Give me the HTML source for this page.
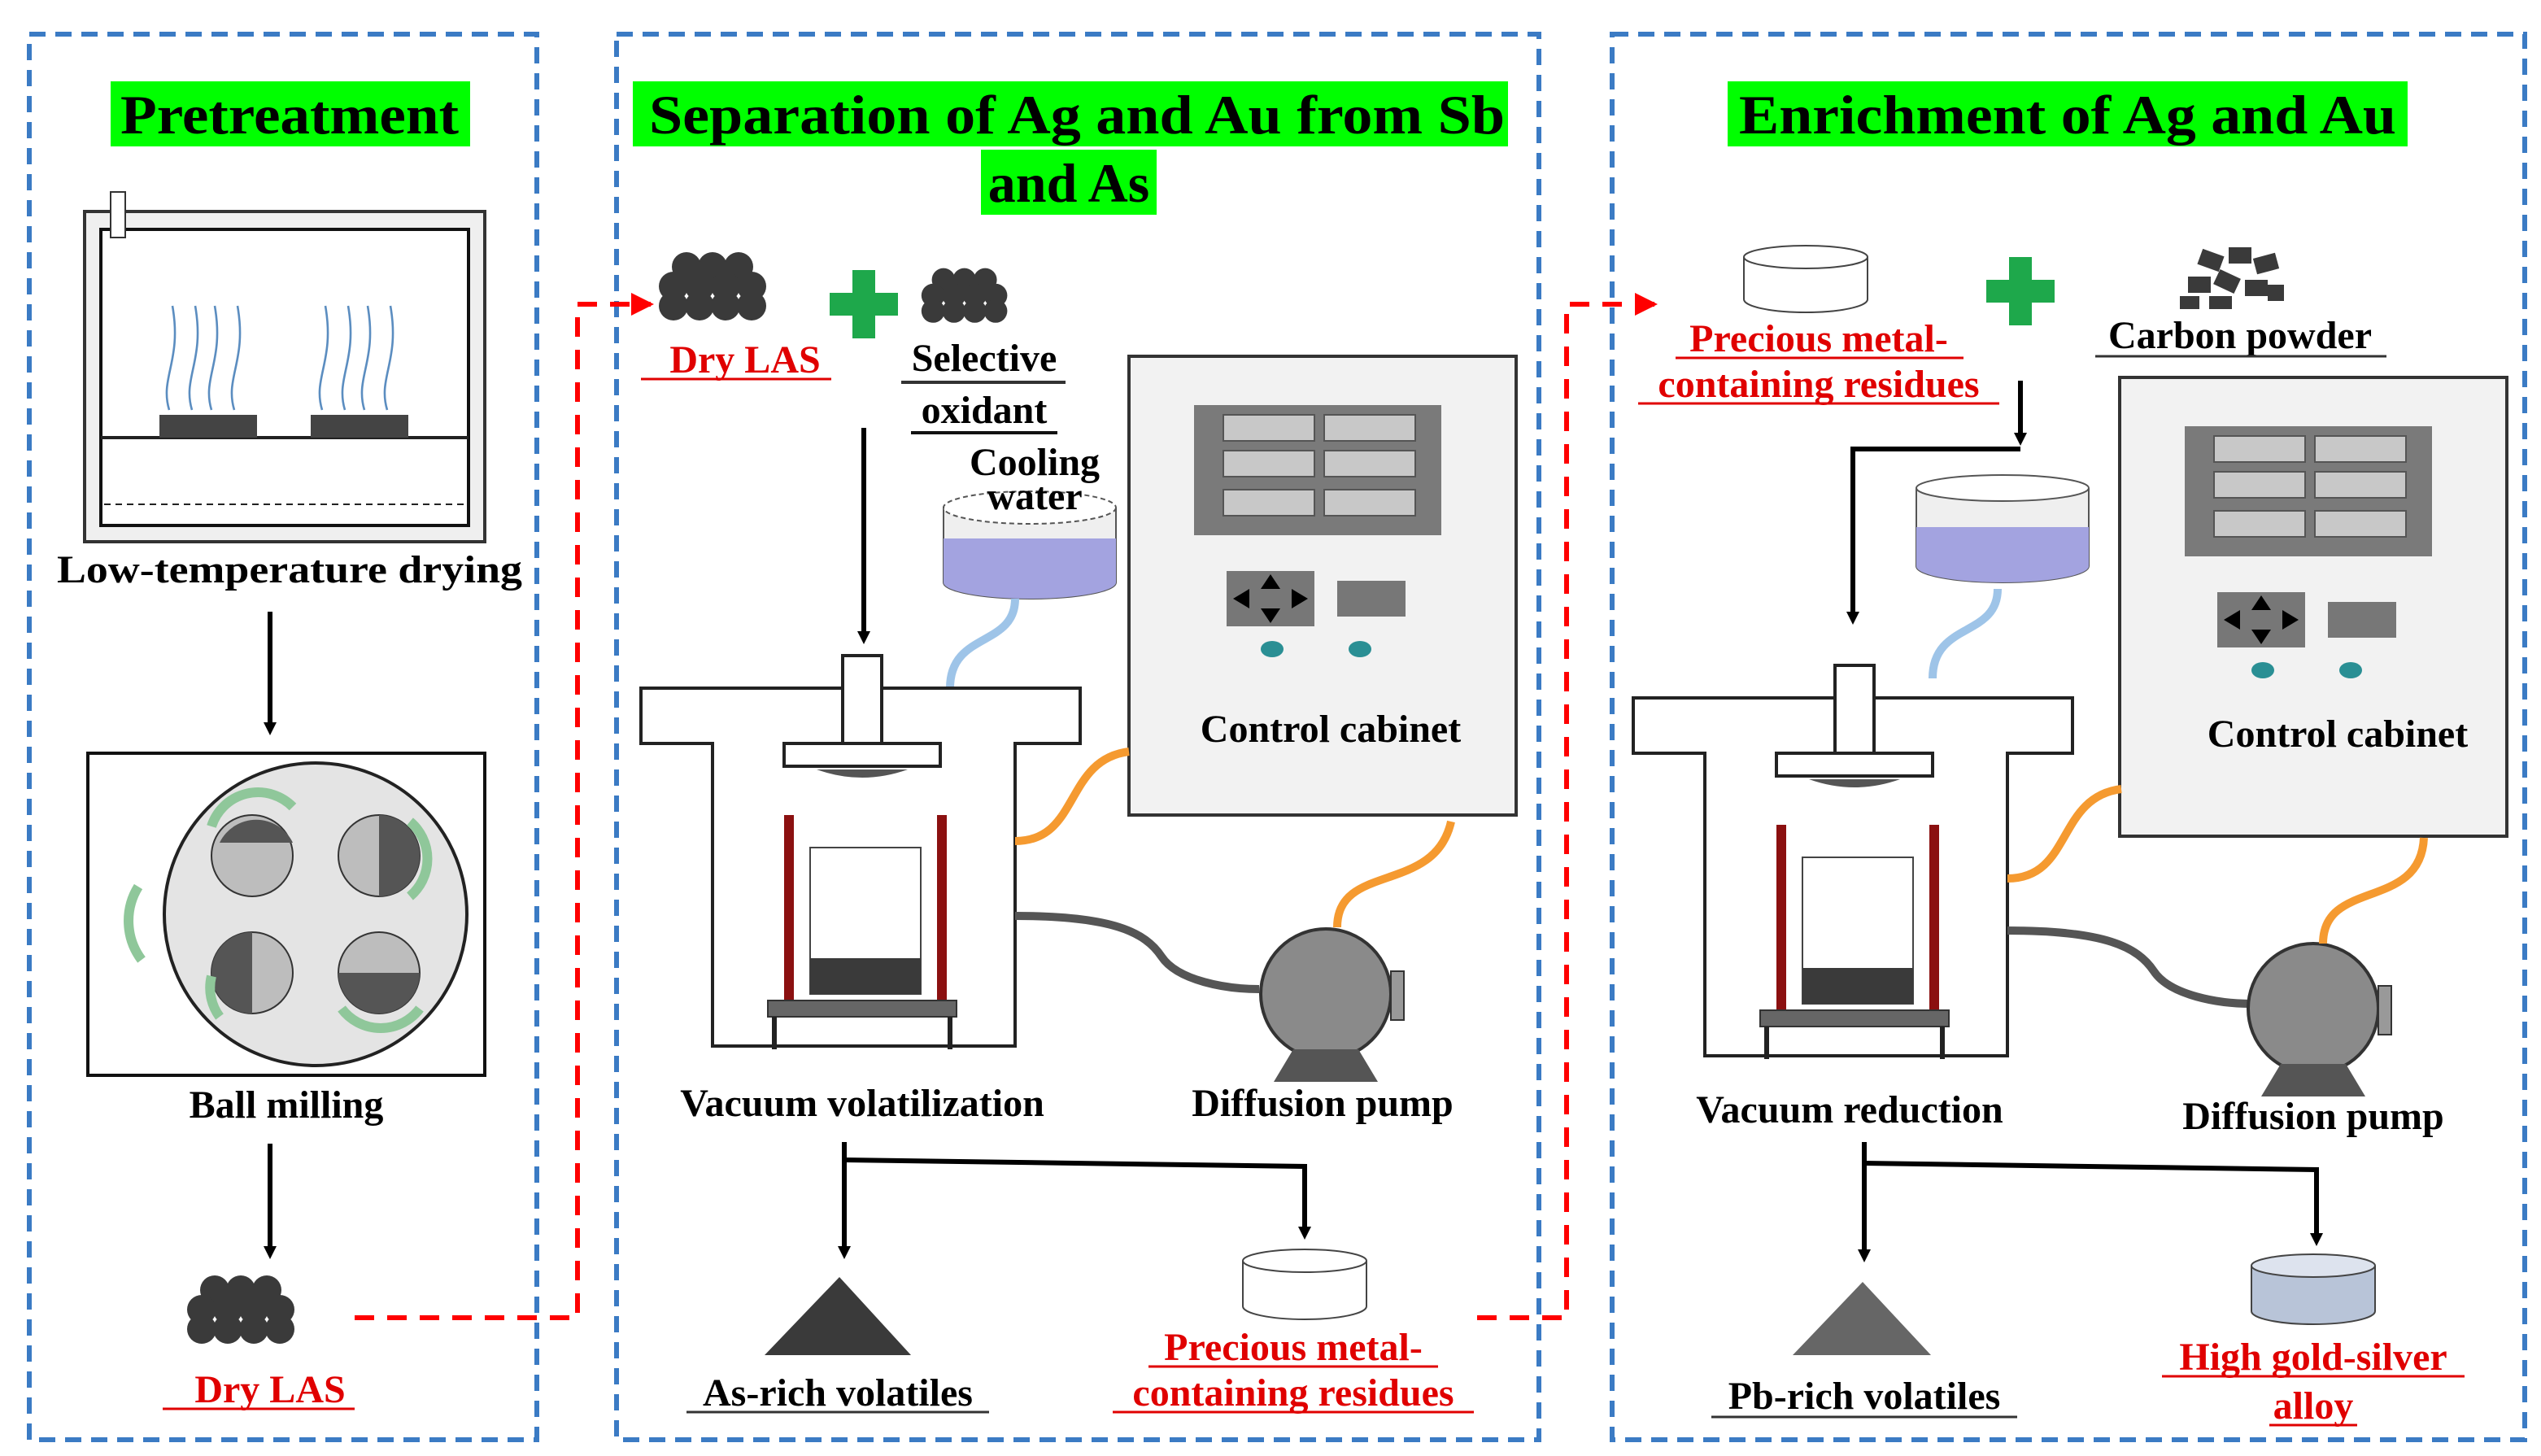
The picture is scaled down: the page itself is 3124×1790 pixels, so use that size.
<!DOCTYPE html>
<html><head><meta charset="utf-8"><style>
html,body{margin:0;padding:0;background:#fff;}
svg{display:block;}
text{font-family:"Liberation Serif",serif;font-weight:bold;}
</style></head><body>
<svg width="3124" height="1790" viewBox="0 0 1562 895" xmlns="http://www.w3.org/2000/svg">
<defs>
<marker id="ab" markerWidth="8" markerHeight="8" refX="4" refY="4" orient="auto" markerUnits="userSpaceOnUse" viewBox="0 0 8 8"><path d="M0,0 L8,4 L0,8 z" fill="#000"/></marker>
<marker id="ar" markerWidth="14" markerHeight="14" refX="12" refY="7" orient="auto" markerUnits="userSpaceOnUse"><path d="M0,0 L14,7 L0,14 z" fill="#f00"/></marker>
<g id="blob">
<circle cx="0" cy="0" r="9" fill="#3a3a3a"/><circle cx="16" cy="0" r="9" fill="#3a3a3a"/><circle cx="32" cy="0" r="9" fill="#3a3a3a"/>
<circle cx="-8" cy="12" r="9" fill="#3a3a3a"/><circle cx="8" cy="12" r="9" fill="#3a3a3a"/><circle cx="24" cy="12" r="9" fill="#3a3a3a"/><circle cx="40" cy="12" r="9" fill="#3a3a3a"/>
<circle cx="-8" cy="24" r="9" fill="#3a3a3a"/><circle cx="8" cy="24" r="9" fill="#3a3a3a"/><circle cx="24" cy="24" r="9" fill="#3a3a3a"/><circle cx="40" cy="24" r="9" fill="#3a3a3a"/>
</g>
<g id="cab">
<rect x="0" y="0" width="238" height="282" fill="#f2f2f2" stroke="#333" stroke-width="2"/>
<rect x="40" y="30" width="152" height="80" fill="#7a7a7a"/>
<g fill="#c8c8c8" stroke="#555"><rect x="58" y="36" width="56" height="16"/><rect x="120" y="36" width="56" height="16"/><rect x="58" y="58" width="56" height="16"/><rect x="120" y="58" width="56" height="16"/><rect x="58" y="82" width="56" height="16"/><rect x="120" y="82" width="56" height="16"/></g>
<rect x="60" y="132" width="54" height="34" fill="#777"/>
<path d="M64,149 l10,-6 v12z M110,149 l-10,-6 v12z M87,134 l-6,9 h12z M87,164 l-6,-9 h12z" fill="#000"/>
<rect x="128" y="138" width="42" height="22" fill="#777"/>
<ellipse cx="88" cy="180" rx="7" ry="5" fill="#2a8f94"/><ellipse cx="142" cy="180" rx="7" ry="5" fill="#2a8f94"/>
</g>
<g id="fur">
<path d="M0,0 H270 V34 H230 V220 H44 V34 H0 Z" fill="#fff" stroke="#222" stroke-width="2"/>
<rect x="124" y="-20" width="24" height="56" fill="#fff" stroke="#222" stroke-width="2"/>
<rect x="88" y="34" width="96" height="14" fill="#fff" stroke="#222" stroke-width="2"/>
<path d="M108,50 q28,10 56,0" fill="#555"/>
<rect x="104" y="98" width="68" height="90" fill="#fff" stroke="#444"/>
<rect x="104" y="166" width="68" height="22" fill="#3a3a3a"/>
<rect x="88" y="78" width="6" height="114" fill="#8b1010"/><rect x="182" y="78" width="6" height="114" fill="#8b1010"/>
<rect x="78" y="192" width="116" height="10" fill="#666" stroke="#333"/>
<line x1="82" y1="202" x2="82" y2="222" stroke="#222" stroke-width="3"/><line x1="190" y1="202" x2="190" y2="222" stroke="#222" stroke-width="3"/>
</g>
<g id="pump">
<circle cx="40" cy="40" r="40" fill="#8a8a8a" stroke="#333" stroke-width="2"/>
<rect x="80" y="26" width="8" height="30" fill="#999" stroke="#333"/>
<path d="M20,74 L8,94 H72 L60,74 Z" fill="#555"/>
</g>
</defs>

<g fill="none" stroke="#3b7bc4" stroke-width="3" stroke-dasharray="10,6">
<rect x="18" y="21" width="312" height="864"/>
<rect x="379" y="21" width="567" height="864"/>
<rect x="991" y="21" width="561" height="864"/>
</g>

<rect x="68" y="50" width="221" height="40" fill="#00ff00"/>
<text x="178" y="82" font-size="34" text-anchor="middle" textLength="208" lengthAdjust="spacingAndGlyphs">Pretreatment</text>
<rect x="389" y="50" width="538" height="40" fill="#00ff00"/>
<text x="662" y="82" font-size="34" text-anchor="middle" textLength="526" lengthAdjust="spacingAndGlyphs">Separation of Ag and Au from Sb</text>
<rect x="603" y="92" width="108" height="40" fill="#00ff00"/>
<text x="657" y="124" font-size="34" text-anchor="middle">and As</text>
<rect x="1062" y="50" width="418" height="40" fill="#00ff00"/>
<text x="1271" y="82" font-size="34" text-anchor="middle" textLength="404" lengthAdjust="spacingAndGlyphs">Enrichment of Ag and Au</text>

<!-- dryer -->
<rect x="52" y="130" width="246" height="203" fill="#efefef" stroke="#333" stroke-width="2"/>
<rect x="62" y="141" width="226" height="182" fill="#fff" stroke="#111" stroke-width="2"/>
<rect x="68" y="118" width="9" height="28" fill="#fff" stroke="#333"/>
<line x1="62" y1="269" x2="288" y2="269" stroke="#222" stroke-width="2"/>
<line x1="64" y1="310" x2="286" y2="310" stroke="#222" stroke-dasharray="4,3"/>
<rect x="98" y="255" width="60" height="14" fill="#444"/><rect x="191" y="255" width="60" height="14" fill="#444"/>
<g fill="none" stroke="#5b8dc0" stroke-width="1.3">
<path d="M104,252 c-6,-20 8,-30 2,-64"/><path d="M118,252 c-6,-20 8,-30 2,-64"/><path d="M130,252 c-6,-20 8,-30 2,-64"/><path d="M144,252 c-6,-20 8,-30 2,-64"/>
<path d="M198,252 c-6,-20 8,-30 2,-64"/><path d="M212,252 c-6,-20 8,-30 2,-64"/><path d="M224,252 c-6,-20 8,-30 2,-64"/><path d="M238,252 c-6,-20 8,-30 2,-64"/>
</g>
<text x="178" y="358" font-size="24" text-anchor="middle" textLength="286" lengthAdjust="spacingAndGlyphs">Low-temperature drying</text>
<line x1="166" y1="376" x2="166" y2="448" stroke="#000" stroke-width="3" marker-end="url(#ab)"/>

<rect x="54" y="463" width="244" height="198" fill="#fff" stroke="#111" stroke-width="2"/>
<circle cx="194" cy="562" r="93" fill="#e4e4e4" stroke="#222" stroke-width="2"/>
<g stroke="#333"><circle cx="155" cy="526" r="25" fill="#bdbdbd"/><circle cx="233" cy="526" r="25" fill="#bdbdbd"/><circle cx="155" cy="598" r="25" fill="#bdbdbd"/><circle cx="233" cy="598" r="25" fill="#bdbdbd"/></g>
<g fill="#555"><path d="M135,518 a25,25 0 0 1 45,0 z"/><path d="M233,501 a25,25 0 0 1 0,50 z"/><path d="M155,573 a25,25 0 0 0 0,50 z"/><path d="M208,598 a25,25 0 0 0 50,0 z"/></g>
<g fill="none" stroke="#8fc79a" stroke-width="6"><path d="M130,508 a30,30 0 0 1 50,-12"/><path d="M252,505 a30,30 0 0 1 0,46"/><path d="M130,600 a30,30 0 0 0 5,25" /><path d="M210,620 a30,30 0 0 0 48,0"/><path d="M85,545 a40,40 0 0 0 2,45"/></g>
<text x="176" y="687" font-size="24" text-anchor="middle">Ball milling</text>
<line x1="166" y1="703" x2="166" y2="770" stroke="#000" stroke-width="3" marker-end="url(#ab)"/>
<use href="#blob" x="132" y="793"/>
<text x="166" y="862" font-size="24" text-anchor="middle" fill="#e00000">Dry LAS</text>
<line x1="100" y1="866" x2="218" y2="866" stroke="#e00000" stroke-width="1.5"/>

<path d="M218,810 H355 V187 H400" fill="none" stroke="#f00" stroke-width="3" stroke-dasharray="12,8" marker-end="url(#ar)"/>
<path d="M908,810 H963 V187 H1017" fill="none" stroke="#f00" stroke-width="3" stroke-dasharray="12,8" marker-end="url(#ar)"/>

<use href="#blob" x="422" y="164"/>
<text x="458" y="229" font-size="24" text-anchor="middle" fill="#e00000">Dry LAS</text>
<line x1="394" y1="233" x2="511" y2="233" stroke="#e00000" stroke-width="1.5"/>
<path d="M524,166 h14 v14 h14 v14 h-14 v14 h-14 v-14 h-14 v-14 h14z" fill="#1ea84b"/>
<g transform="translate(580,172) scale(0.8)"><use href="#blob"/></g>
<text x="605" y="228" font-size="24" text-anchor="middle">Selective</text>
<line x1="554" y1="235" x2="655" y2="235" stroke="#333" stroke-width="2"/>
<text x="605" y="260" font-size="24" text-anchor="middle">oxidant</text>
<line x1="560" y1="266" x2="650" y2="266" stroke="#111" stroke-width="2"/>
<text x="636" y="292" font-size="24" text-anchor="middle">Cooling</text>
<path d="M580,312 V358 a53,10 0 0 0 106,0 V312" fill="#efefef" stroke="#555"/>
<path d="M580,331 V358 a53,10 0 0 0 106,0 V331 Z" fill="#a3a3e0"/>
<ellipse cx="633" cy="312" rx="53" ry="10" fill="#fff" stroke="#555" stroke-dasharray="3,2"/>
<text x="636" y="313" font-size="24" text-anchor="middle">water</text>
<line x1="531" y1="263" x2="531" y2="392" stroke="#000" stroke-width="3" marker-end="url(#ab)"/>
<path d="M624,368 c0,30 -40,20 -40,55" fill="none" stroke="#9ec4e8" stroke-width="5"/>
<use href="#fur" x="394" y="423"/>
<use href="#cab" x="694" y="219"/>
<text x="818" y="456" font-size="24" text-anchor="middle">Control cabinet</text>
<path d="M624,517 c40,0 30,-50 70,-55" fill="none" stroke="#f59a30" stroke-width="5"/>
<path d="M624,563 c60,0 80,10 90,25 s40,20 60,20" fill="none" stroke="#555" stroke-width="5"/>
<use href="#pump" x="775" y="571"/>
<path d="M822,570 c0,-40 60,-20 70,-65" fill="none" stroke="#f59a30" stroke-width="5"/>
<text x="530" y="686" font-size="24" text-anchor="middle">Vacuum volatilization</text>
<text x="813" y="686" font-size="24" text-anchor="middle">Diffusion pump</text>
<path d="M519,702 V770" stroke="#000" stroke-width="3" fill="none" marker-end="url(#ab)"/>
<path d="M519,713 L802,717 V758" stroke="#000" stroke-width="3" fill="none" marker-end="url(#ab)"/>
<g fill="#3a3a3a"><path d="M470,833 L516,785 L560,833 Z"/></g>
<text x="515" y="864" font-size="24" text-anchor="middle">As-rich volatiles</text>
<line x1="422" y1="868" x2="608" y2="868" stroke="#333" stroke-width="1.5"/>
<path d="M764,775 V803 a38,8 0 0 0 76,0 V775" fill="#fff" stroke="#444"/>
<ellipse cx="802" cy="775" rx="38" ry="7" fill="#fff" stroke="#444"/>
<text x="795" y="836" font-size="24" text-anchor="middle" fill="#e00000">Precious metal-</text>
<line x1="706" y1="840" x2="884" y2="840" stroke="#e00000" stroke-width="1.5"/>
<text x="795" y="864" font-size="24" text-anchor="middle" fill="#e00000">containing residues</text>
<line x1="684" y1="868" x2="906" y2="868" stroke="#e00000" stroke-width="1.5"/>

<path d="M1072,158 V184 a38,8 0 0 0 76,0 V158" fill="#fff" stroke="#444"/>
<ellipse cx="1110" cy="158" rx="38" ry="7" fill="#fff" stroke="#444"/>
<text x="1118" y="216" font-size="24" text-anchor="middle" fill="#e00000">Precious metal-</text>
<line x1="1030" y1="220" x2="1207" y2="220" stroke="#e00000" stroke-width="1.5"/>
<text x="1118" y="244" font-size="24" text-anchor="middle" fill="#e00000">containing residues</text>
<line x1="1007" y1="248" x2="1229" y2="248" stroke="#e00000" stroke-width="1.5"/>
<path d="M1235,158 h14 v14 h14 v14 h-14 v14 h-14 v-14 h-14 v-14 h14z" fill="#1ea84b"/>
<g fill="#3a3a3a"><rect x="1352" y="155" width="14" height="10" transform="rotate(20 1359 160)"/><rect x="1370" y="152" width="14" height="10"/><rect x="1386" y="157" width="14" height="10" transform="rotate(-15 1393 162)"/><rect x="1345" y="170" width="14" height="10"/><rect x="1362" y="168" width="14" height="10" transform="rotate(25 1369 173)"/><rect x="1380" y="172" width="14" height="10"/><rect x="1394" y="175" width="10" height="10"/><rect x="1340" y="182" width="12" height="8"/><rect x="1358" y="182" width="14" height="8"/></g>
<text x="1377" y="214" font-size="24" text-anchor="middle">Carbon powder</text>
<line x1="1288" y1="219" x2="1467" y2="219" stroke="#333" stroke-width="1.5"/>
<path d="M1242,234 V270" stroke="#000" stroke-width="3" fill="none" marker-end="url(#ab)"/>
<path d="M1242,276 H1139 V380" stroke="#000" stroke-width="3" fill="none" marker-end="url(#ab)"/>
<path d="M1178,300 V348 a53,10 0 0 0 106,0 V300" fill="#efefef" stroke="#555"/>
<path d="M1178,324 V348 a53,10 0 0 0 106,0 V324 Z" fill="#a3a3e0"/>
<ellipse cx="1231" cy="300" rx="53" ry="8" fill="#fff" stroke="#555"/>
<path d="M1228,362 c0,30 -40,20 -40,55" fill="none" stroke="#9ec4e8" stroke-width="5"/>
<use href="#fur" x="1004" y="429"/>
<use href="#cab" x="1303" y="232"/>
<text x="1437" y="459" font-size="24" text-anchor="middle">Control cabinet</text>
<path d="M1234,540 c40,0 30,-50 70,-55" fill="none" stroke="#f59a30" stroke-width="5"/>
<path d="M1234,572 c60,0 80,10 90,25 s40,20 60,20" fill="none" stroke="#555" stroke-width="5"/>
<use href="#pump" x="1382" y="580"/>
<path d="M1428,580 c0,-40 60,-20 62,-65" fill="none" stroke="#f59a30" stroke-width="5"/>
<text x="1137" y="690" font-size="24" text-anchor="middle">Vacuum reduction</text>
<text x="1422" y="694" font-size="24" text-anchor="middle">Diffusion pump</text>
<path d="M1146,702 V772" stroke="#000" stroke-width="3" fill="none" marker-end="url(#ab)"/>
<path d="M1146,715 L1424,719 V762" stroke="#000" stroke-width="3" fill="none" marker-end="url(#ab)"/>
<path d="M1102,833 L1145,788 L1187,833 Z" fill="#666"/>
<text x="1146" y="866" font-size="24" text-anchor="middle">Pb-rich volatiles</text>
<line x1="1052" y1="871" x2="1240" y2="871" stroke="#333" stroke-width="1.5"/>
<path d="M1384,778 V806 a38,8 0 0 0 76,0 V778" fill="#b8c4d8" stroke="#444"/>
<ellipse cx="1422" cy="778" rx="38" ry="7" fill="#dde3ee" stroke="#444"/>
<text x="1422" y="842" font-size="24" text-anchor="middle" fill="#e00000">High gold-silver</text>
<line x1="1329" y1="846" x2="1515" y2="846" stroke="#e00000" stroke-width="1.5"/>
<text x="1422" y="872" font-size="24" text-anchor="middle" fill="#e00000">alloy</text>
<line x1="1395" y1="876" x2="1449" y2="876" stroke="#e00000" stroke-width="1.5"/>
</svg>
</body></html>
